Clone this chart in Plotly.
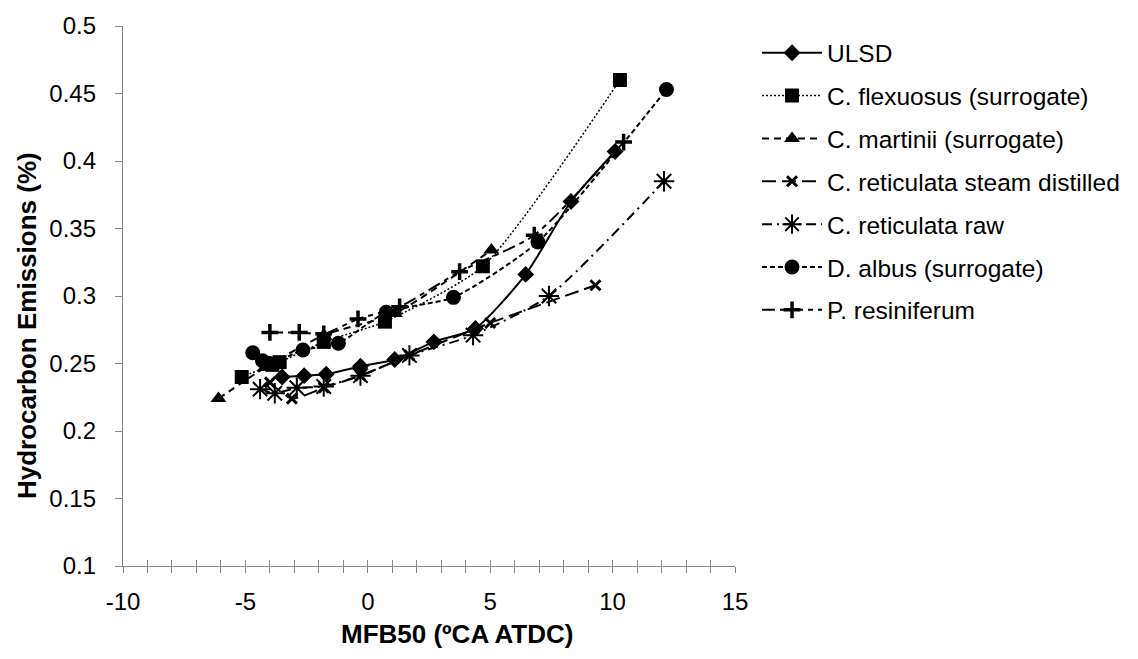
import plotly.graph_objects as go

# MFB50 (deg CA ATDC) and hydrocarbon emissions (%) for each fuel
ulsd_x = [-3.5, -2.6, -1.7, -0.3, 1.1, 2.7, 4.4, 6.45, 8.3, 10.1]
ulsd_y = [0.240, 0.241, 0.242, 0.248, 0.253, 0.266, 0.276, 0.316, 0.370, 0.407]

flex_x = [-5.15, -3.9, -3.6, -1.8, 0.7, 4.7, 10.3]
flex_y = [0.240, 0.249, 0.251, 0.266, 0.281, 0.322, 0.460]

mart_x = [-6.1, -4.2, -1.8, 1.1, 5.05]
mart_y = [0.224, 0.247, 0.271, 0.287, 0.334]

steam_x = [-4.0, -3.1, -1.8, -0.3, 1.7, 5.0, 9.3]
steam_y = [0.236, 0.224, 0.232, 0.241, 0.256, 0.280, 0.308]

raw_x = [-4.4, -3.8, -2.9, -1.8, -0.3, 1.7, 4.3, 7.4, 12.1]
raw_y = [0.231, 0.228, 0.232, 0.233, 0.241, 0.256, 0.271, 0.300, 0.385]

albus_x = [-4.7, -4.3, -4.0, -2.65, -1.2, 0.75, 3.5, 6.95, 12.2]
albus_y = [0.258, 0.252, 0.250, 0.260, 0.265, 0.288, 0.299, 0.340, 0.453]

resin_x = [-4.0, -2.8, -1.8, -0.4, 1.3, 3.75, 6.8, 10.45]
resin_y = [0.273, 0.273, 0.272, 0.283, 0.292, 0.318, 0.345, 0.414]

names = [
    "ULSD",
    "C. flexuosus (surrogate)",
    "C. martinii (surrogate)",
    "C. reticulata steam distilled",
    "C. reticulata raw",
    "D. albus (surrogate)",
    "P. resiniferum",
]

x_tickvals = [-10, -5, 0, 5, 10, 15]
x_ticktext = ["-10", "-5", "0", "5", "10", "15"]

xs = [ulsd_x, flex_x, mart_x, steam_x, raw_x, albus_x, resin_x]
ys = [ulsd_y, flex_y, mart_y, steam_y, raw_y, albus_y, resin_y]

styles = [
    dict(dash="solid", width=2, symbol="diamond", size=13, mline=0),
    dict(dash="2px,2px", width=1.5, symbol="square", size=14, mline=0),
    dict(dash="7px,5px", width=2, symbol="triangle-up", size=14, mline=0),
    dict(dash="14px,6px", width=2, symbol="x-thin-open", size=10, mline=3),
    dict(dash="10px,5px,2px,5px", width=2, symbol="asterisk-open", size=17, mline=2),
    dict(dash="5px,3px", width=2, symbol="circle", size=15, mline=0),
    dict(dash="13px,5px,5px,5px", width=2, symbol="cross-thin-open", size=12, mline=3.5),
]

fig = go.Figure()
for i, (name, x, y, st) in enumerate(zip(names, xs, ys, styles)):
    fig.add_trace(go.Scatter(
        x=x, y=y, name=name, mode="lines+markers",
        legendgroup=f"g{i}",
        line=dict(color="black", width=st["width"], dash=st["dash"],
                  shape="spline", smoothing=0.6),
        marker=dict(symbol=st["symbol"], size=st["size"], color="black",
                    line=dict(color="black", width=st["mline"])),
    ))

# inward half of the crossing ticks on the x axis
fig.add_trace(go.Scatter(x=[None], y=[None], xaxis="x2", showlegend=False,
                         hoverinfo="skip"))

axis_col = "#868686"
font_family = "Liberation Sans, Arial, sans-serif"

fig.update_layout(
    width=1138, height=659,
    margin=dict(l=123, r=403, t=19, b=93),
    paper_bgcolor="white", plot_bgcolor="white",
    font=dict(family=font_family, size=24, color="black"),
    showlegend=True,
    legend=dict(x=1.036, y=0.992, xanchor="left", yanchor="top",
                font=dict(size=24.5), tracegroupgap=8, itemwidth=60,
                bgcolor="rgba(0,0,0,0)", borderwidth=0),
    xaxis=dict(range=[-10, 15], tickvals=x_tickvals, ticktext=x_ticktext,
               showgrid=False, zeroline=False, showline=True,
               linecolor=axis_col, linewidth=1.3,
               ticks="outside", ticklen=6, tickcolor=axis_col, tickwidth=1.3,
               minor=dict(dtick=1, ticks="outside", ticklen=6,
                          tickcolor=axis_col, tickwidth=1.3),
               tickfont=dict(size=24), ticklabelstandoff=8),
    xaxis2=dict(range=[-10, 15], overlaying="x", anchor="y", side="bottom",
                showgrid=False, zeroline=False, showline=False,
                showticklabels=False, tickmode="linear", tick0=-10, dtick=1,
                ticks="inside", ticklen=6, tickcolor=axis_col, tickwidth=1.3),
    yaxis=dict(range=[0.1, 0.5], dtick=0.05, tick0=0.1,
               showgrid=False, zeroline=False, showline=True,
               linecolor=axis_col, linewidth=1.3,
               ticks="outside", ticklen=7, tickcolor=axis_col, tickwidth=1.3,
               tickfont=dict(size=24), ticklabelstandoff=14),
    annotations=[
        dict(text="<b>MFB50 (ºCA ATDC)</b>", xref="paper", yref="paper",
             x=0.545, y=-0.126, xanchor="center", yanchor="middle",
             showarrow=False, font=dict(size=26)),
        dict(text="<b>Hydrocarbon Emissions (%)</b>", xref="paper", yref="paper",
             x=-0.157, y=0.446, xanchor="center", yanchor="middle",
             textangle=-90, showarrow=False, font=dict(size=26)),
    ],
)

fig.write_html("out.html")
